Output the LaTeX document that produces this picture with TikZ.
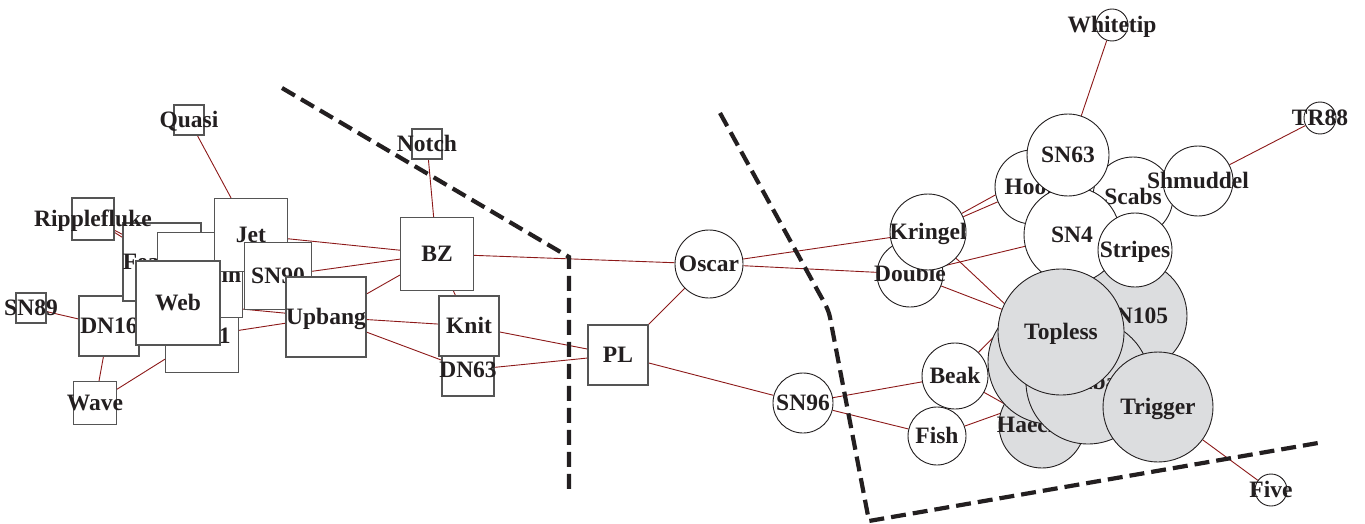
\documentclass[tikz,border=0pt]{standalone}
\usepackage{fontspec}
\setmainfont{Liberation Serif}
\pgfdeclarelayer{edges}
\pgfsetlayers{edges,main}
\definecolor{edgecol}{RGB}{140,25,25}
\definecolor{boxcol}{RGB}{85,85,85}
\definecolor{nodegray}{RGB}{220,221,223}
\definecolor{txt}{RGB}{35,31,32}
\tikzset{
 sq/.style={rectangle, draw=boxcol, fill=white, line width=1.1pt, inner sep=0pt, minimum size=#1},
 circ/.style={circle, draw=txt, fill=white, line width=0.9pt, inner sep=0pt, minimum size=#1},
 gcirc/.style={circ=#1, fill=nodegray},
 lbl/.style={font=\bfseries\fontsize{23.5}{28}\selectfont, text=txt, inner sep=0pt, text height=15.5pt, text depth=0pt},
 edge/.style={draw=edgecol, line width=0.9pt},
 sepline/.style={draw=txt, line width=4.2pt, dash pattern=on 15pt off 7pt}
}
\newcommand{\SQ}[4]{\node[sq=#2] (#1) at (#3) {}; \node[lbl] (#1-t) at (#1.center) {#4};}
\newcommand{\CI}[5]{\node[#5=#2] (#1) at (#3) {}; \node[lbl] (#1-t) at (#1.center) {#4};}
\begin{document}
\begin{tikzpicture}[x=1pt,y=-1pt]
\useasboundingbox (0,0) rectangle (1365,524);
% ---- left community (squares)
\SQ{sn89}{30}{31,308}{SN89}
\SQ{dn16}{60}{109,326}{DN16}
\SQ{wave}{43}{95,403}{Wave}
\SQ{feather}{78}{162,262}{Feather}
\SQ{ripple}{42}{93,219}{Ripplefluke}
\SQ{dn21}{73}{202,336}{DN21}
\SQ{gallatin}{85}{200,275}{Gallatin}
\SQ{jet}{73}{251,235}{Jet}
\SQ{web}{84}{178,303}{Web}
\SQ{sn90}{67}{278,276}{SN90}
\SQ{upbang}{80}{326,317}{Upbang}
\SQ{quasi}{30}{189,120}{Quasi}
\SQ{notch}{30}{427,144}{Notch}
\SQ{bz}{73}{437,254}{BZ}
\SQ{dn63}{52}{468,370}{DN63}
\SQ{knit}{60}{469,326}{Knit}
\SQ{pl}{60}{618,355}{PL}
% ---- right community (circles)
\CI{oscar}{68}{709,264}{Oscar}{circ}
\CI{sn96}{60}{803,403}{SN96}{circ}
\CI{fish}{58}{937,436}{Fish}{circ}
\CI{beak}{66}{955,376}{Beak}{circ}
\CI{double}{66}{910,274}{Double}{circ}
\CI{kringel}{76}{928,232}{Kringel}{circ}
\CI{whitetip}{32}{1112,25}{Whitetip}{circ}
\CI{tr88}{32}{1320,118}{TR88}{circ}
\CI{five}{32}{1271,490}{Five}{circ}
\CI{haecksel}{86}{1042,425}{Haecksel}{gcirc}
\node[gcirc=124] (hid) at (1050,362) {};
\CI{mn105}{112}{1131,316}{MN105}{gcirc}
\CI{hook}{74}{1032,187}{Hook}{circ}
\CI{scabs}{80}{1133,197}{Scabs}{circ}
\CI{sn4}{96}{1072,235}{SN4}{circ}
\CI{sn63}{82}{1068,155}{SN63}{circ}
\CI{shmuddel}{70}{1198,181}{Shmuddel}{circ}
\CI{stripes}{74}{1135,250}{Stripes}{circ}
\CI{patchback}{124}{1088,382}{Patchback}{gcirc}
\CI{topless}{126}{1061,332}{Topless}{gcirc}
\CI{trigger}{110}{1158,407}{Trigger}{gcirc}
% ---- edges
\begin{pgfonlayer}{edges}
\draw[edge] (sn89) -- (dn16);
\draw[edge] (dn16) -- (wave);
\draw[edge] (wave) -- (dn21);
\draw[edge] (ripple) -- (feather);
\draw[edge] (ripple) -- (gallatin);
\draw[edge] (quasi) -- (jet);
\draw[edge] (jet) -- (bz);
\draw[edge] (sn90) -- (bz);
\draw[edge] (upbang) -- (bz);
\draw[edge] (upbang) -- (knit);
\draw[edge] (upbang) -- (dn63);
\draw[edge] (web) -- (upbang);
\draw[edge] (dn21) -- (upbang);
\draw[edge] (notch) -- (bz);
\draw[edge] (bz) -- (knit);
\draw[edge] (bz) -- (oscar);
\draw[edge] (knit) -- (pl);
\draw[edge] (dn63) -- (pl);
\draw[edge] (pl) -- (oscar);
\draw[edge] (pl) -- (sn96);
\draw[edge] (oscar) -- (kringel);
\draw[edge] (oscar) -- (double);
\draw[edge] (sn96) -- (beak);
\draw[edge] (sn96) -- (fish);
\draw[edge] (fish) -- (patchback);
\draw[edge] (beak) -- (scabs);
\draw[edge] (beak) -- (haecksel);
\draw[edge] (kringel) -- (hook);
\draw[edge] (kringel) -- (sn63);
\draw[edge] (double) -- (sn4);
\draw[edge] (kringel) -- (patchback);
\draw[edge] (double) -- (topless);
\draw[edge] (sn63) -- (whitetip);
\draw[edge] (shmuddel) -- (tr88);
\draw[edge] (trigger) -- (five);
\end{pgfonlayer}
% ---- community boundaries
\draw[sepline] (282,88) -- (569,257) -- (569,492);
\draw[sepline] (720,113) -- (819,293) .. controls (829,311) .. (832,328) -- (869,521) -- (1318,443);
\end{tikzpicture}
\end{document}
